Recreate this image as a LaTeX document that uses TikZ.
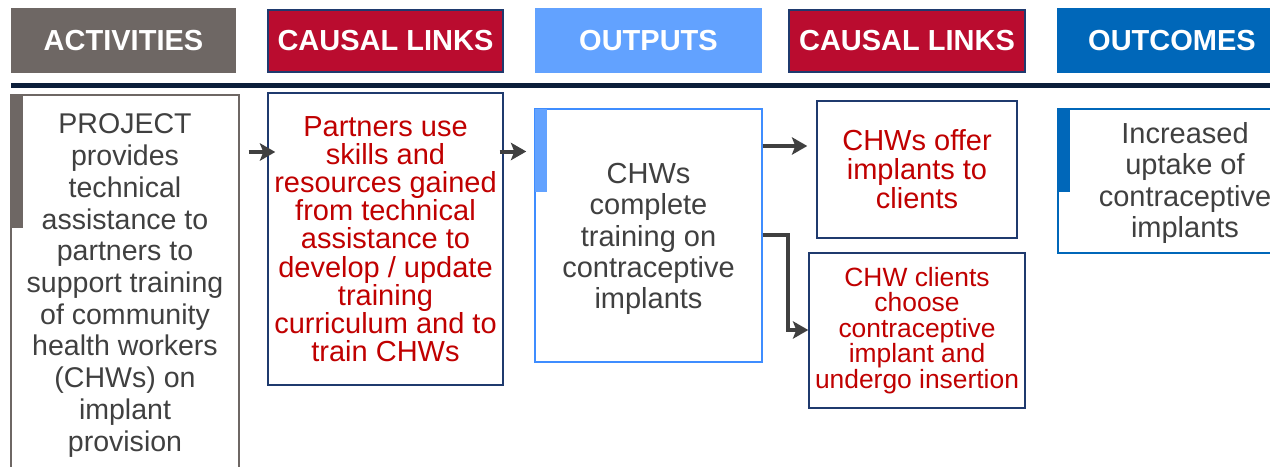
\documentclass[tikz,border=0pt]{standalone}
\usepackage{fontspec}
\setmainfont{Liberation Sans}
\usetikzlibrary{arrows.meta}

\definecolor{actgray}{HTML}{6E6764}
\definecolor{crimson}{HTML}{BA0C2F}
\definecolor{navy}{HTML}{1F3A6E}
\definecolor{skyblue}{HTML}{62A2FF}
\definecolor{skyline}{HTML}{3F8DFF}
\definecolor{royal}{HTML}{0067B9}
\definecolor{rulecol}{HTML}{0B1E3A}
\definecolor{bodytext}{HTML}{404040}
\definecolor{redtext}{HTML}{C00000}

\tikzset{
  hdr/.style={rectangle, inner sep=0pt, outer sep=0pt, text=white,
    font=\bfseries\fontsize{21.75}{24}\selectfont},
  box/.style={rectangle, draw, fill=white, inner sep=0pt, line width=1.1pt,
    align=center},
  graytxt/.style={text=bodytext},
  redtxt/.style={text=redtext},
  arr/.style={draw=bodytext, line width=3pt,
    -{Stealth[length=11.5pt, width=13pt, inset=2.5pt]}},
}

\begin{document}
\begin{tikzpicture}[x=0.75pt, y=-0.75pt]
\useasboundingbox (0,0) rectangle (1270,467);
\clip (0,0) rectangle (1270,467);

% column headers
\node[hdr, fill=actgray, minimum width=168.75pt, minimum height=48.75pt]
  (h1) at (123.5,40.5) {ACTIVITIES};
\node[hdr, fill=crimson, draw=navy, line width=1pt, minimum width=176.25pt,
  minimum height=46.5pt] (h2) at (385.5,41) {CAUSAL LINKS};
\node[hdr, fill=skyblue, minimum width=170.25pt, minimum height=48.75pt]
  (h3) at (648.5,40.5) {OUTPUTS};
\node[hdr, fill=crimson, draw=navy, line width=1pt, minimum width=177pt,
  minimum height=46.5pt] (h4) at (907,41) {CAUSAL LINKS};
\node[hdr, fill=royal, minimum width=172.5pt, minimum height=48.75pt]
  (h5) at (1172,40.5) {OUTCOMES};

% separator rule
\draw[rulecol, line width=3.75pt] (11,85.5) -- (1275,85.5);

% activity (runs past the lower edge)
\node[box, draw=actgray, graytxt, minimum width=171pt, minimum height=285.75pt,
  font=\fontsize{21.4}{23.8}\selectfont] (act) at (125,285.5)
  {PROJECT\\provides\\technical\\assistance to\\partners to\\support training\\of community\\health workers\\(CHWs) on\\implant\\provision};
\fill[actgray] (11,95) rectangle (23,228);

% first causal link
\node[box, draw=navy, redtxt, minimum width=176.25pt, minimum height=219pt,
  font=\fontsize{21.75}{21.15}\selectfont] (c1) at (385.5,239)
  {Partners use\\skills and\\resources gained\\from technical\\assistance to\\develop / update\\training\\curriculum and to\\train CHWs};

% output
\node[box, draw=skyline, graytxt, minimum width=170.25pt, minimum height=189.75pt,
  font=\fontsize{21.75}{23.6}\selectfont] (out) at (648.5,235.5)
  {\rule{0pt}{20.3pt}CHWs\\complete\\training on\\contraceptive\\implants};
\fill[skyblue] (535,109) rectangle (547,192);

% second causal links
\node[box, draw=navy, redtxt, minimum width=150pt, minimum height=102.75pt,
  font=\fontsize{21.75}{21.75}\selectfont] (c2) at (917,169.5)
  {CHWs offer\\implants to\\clients};
\node[box, draw=navy, redtxt, minimum width=162pt, minimum height=116.25pt,
  font=\fontsize{19.8}{19.1}\selectfont] (c3) at (917,330.5)
  {CHW clients\\choose\\contraceptive\\implant and\\undergo insertion};

% outcome
\node[box, draw=royal, graytxt, minimum width=190.5pt, minimum height=108pt,
  font=\fontsize{21.75}{23.6}\selectfont] (oc) at (1185,181)
  {\rule{0pt}{18.9pt}Increased\\uptake of\\contraceptive\\implants};
\fill[royal] (1058,109) rectangle (1070,192);

% connector rows
\coordinate (r1) at (0,152);
\coordinate (r2) at (0,151.5);
\coordinate (r3) at (0,146);
\coordinate (r4a) at (0,235);
\coordinate (r4b) at (0,330);

\draw[arr, shorten <=6.75pt, shorten >=-6pt] (act.east |- r1) -- (c1.west |- r1);
\draw[arr, shorten <=-3pt, shorten >=6pt] (c1.east |- r2) -- (out.west |- r2);
\draw[arr, shorten >=6.75pt] (out.east |- r3) -- (c2.west |- r3);
\draw[arr] (out.east |- r4a) -- ++(25,0) |- (c3.west |- r4b);
\end{tikzpicture}
\end{document}
